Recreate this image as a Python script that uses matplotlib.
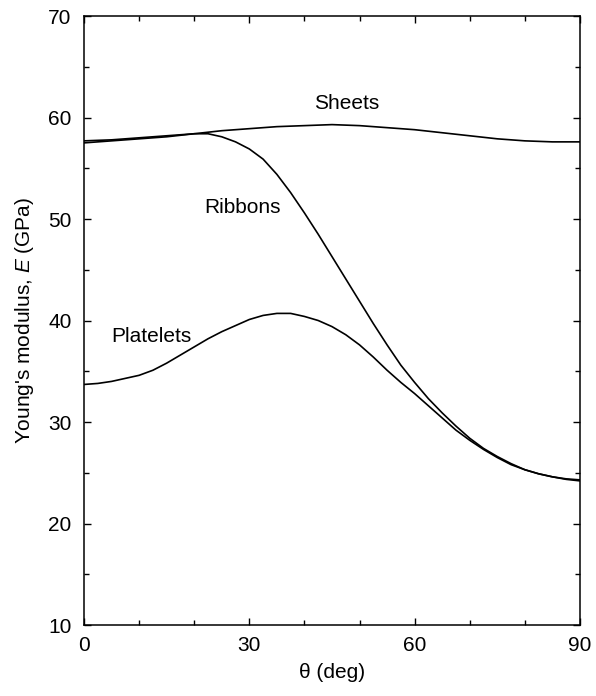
import numpy as np
import matplotlib
matplotlib.use("Agg")
import matplotlib.pyplot as plt
from matplotlib.ticker import MultipleLocator

# Data (angle in deg, modulus in GPa)
theta_sheets = [0, 5, 10, 15, 20, 25, 30, 35, 40, 45, 50, 55, 60, 65, 70, 75, 80, 85, 90]
E_sheets = [57.7, 57.8, 58.0, 58.2, 58.4, 58.7, 58.9, 59.1, 59.2, 59.3, 59.2, 59.0,
            58.8, 58.5, 58.2, 57.9, 57.7, 57.6, 57.6]

theta_ribbons = [0, 5, 10, 15, 17.5, 20, 22.5, 25, 27.5, 30, 32.5, 35, 37.5, 40, 42.5,
                 45, 47.5, 50, 52.5, 55, 57.5, 60, 62.5, 65, 67.5, 70, 72.5, 75, 77.5,
                 80, 82.5, 85, 87.5, 90]
E_ribbons = [57.5, 57.7, 57.9, 58.1, 58.25, 58.4, 58.4, 58.1, 57.6, 56.9, 55.9, 54.4,
             52.6, 50.6, 48.5, 46.3, 44.1, 41.9, 39.7, 37.6, 35.6, 33.9, 32.3, 30.9,
             29.6, 28.4, 27.4, 26.6, 25.9, 25.3, 24.9, 24.6, 24.4, 24.3]

theta_platelets = [0, 2.5, 5, 7.5, 10, 12.5, 15, 17.5, 20, 22.5, 25, 27.5, 30, 32.5, 35,
                   37.5, 40, 42.5, 45, 47.5, 50, 52.5, 55, 57.5, 60, 62.5, 65, 67.5, 70,
                   72.5, 75, 77.5, 80, 82.5, 85, 87.5, 90]
E_platelets = [33.7, 33.8, 34.0, 34.3, 34.6, 35.1, 35.8, 36.6, 37.4, 38.2, 38.9, 39.5,
               40.1, 40.5, 40.7, 40.7, 40.4, 40.0, 39.4, 38.6, 37.6, 36.4, 35.1, 33.9,
               32.8, 31.6, 30.4, 29.2, 28.2, 27.3, 26.5, 25.8, 25.3, 24.9, 24.6, 24.35,
               24.2]

plt.rcParams['font.family'] = ['Liberation Sans', 'DejaVu Sans']
plt.rcParams['mathtext.fontset'] = 'custom'
plt.rcParams['mathtext.it'] = 'Liberation Sans:italic'
plt.rcParams['mathtext.rm'] = 'Liberation Sans'

fs = 15

fig = plt.figure(figsize=(5.96, 6.96), dpi=100)
ax = fig.add_axes([0.141, 0.102, 0.832, 0.875])

for t, e in [(theta_sheets, E_sheets), (theta_ribbons, E_ribbons),
             (theta_platelets, E_platelets)]:
    ax.plot(t, e, color='black', lw=1.2)

ax.text(47.7, 61.4, 'Sheets', fontsize=fs, ha='center', va='center')
ax.text(28.7, 51.1, 'Ribbons', fontsize=fs, ha='center', va='center')
ax.text(12.2, 38.4, 'Platelets', fontsize=fs, ha='center', va='center')

ax.set_xlim(0, 90)
ax.set_ylim(10, 70)
ax.xaxis.set_major_locator(MultipleLocator(30))
ax.xaxis.set_minor_locator(MultipleLocator(10))
ax.yaxis.set_major_locator(MultipleLocator(10))
ax.yaxis.set_minor_locator(MultipleLocator(5))
ax.tick_params(which='both', direction='in', top=True, right=True, labelsize=fs)
ax.tick_params(which='major', length=5, width=1)
ax.tick_params(which='minor', length=3.5, width=1)
ax.tick_params(axis='x', pad=8)
ax.tick_params(axis='y', pad=9)
for s in ax.spines.values():
    s.set_linewidth(1.1)

ax.set_xlabel('θ (deg)', fontsize=fs, labelpad=6)
ax.set_ylabel("Young's modulus, $E$ (GPa)", fontsize=fs, labelpad=9)

fig.savefig('out.png', dpi=100)
